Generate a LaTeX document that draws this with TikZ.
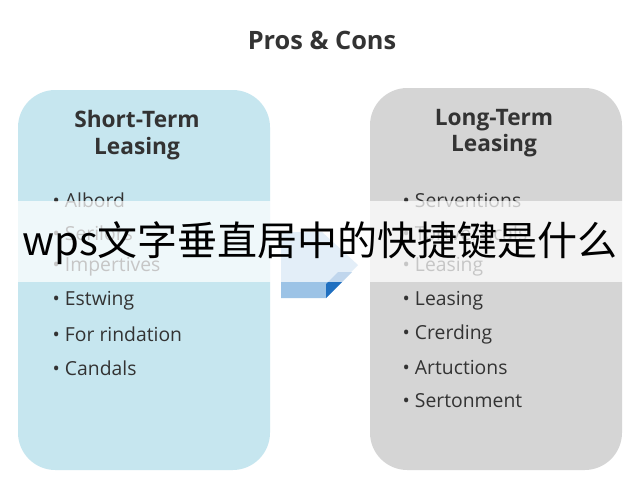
\documentclass[tikz,border=0pt]{standalone}
\usepackage{fontspec}
\setmainfont{Open Sans}
\newfontfamily\cjk{Noto Sans CJK SC}
\definecolor{cardblue}{HTML}{C6E6EF}
\definecolor{cardgray}{HTML}{D5D5D5}
\definecolor{inkgray}{HTML}{333333}
\definecolor{arrowblue}{HTML}{9CC3E6}
\definecolor{arrowdark}{HTML}{1F6FC0}
\tikzset{
  card/.style={rounded corners=28pt, draw=none},
  head/.style={font=\fontsize{17}{20}\selectfont\bfseries, text=inkgray, align=center},
  item/.style={font=\fontsize{14.5}{16}\selectfont, text=inkgray, anchor=west},
}
\begin{document}
\begin{tikzpicture}[x=0.75pt,y=-0.75pt]
  \useasboundingbox (0,0) rectangle (640,480);
  \fill[white] (0,0) rectangle (640,480);

  % Title
  \node[head, font=\fontsize{19}{22}\selectfont\bfseries] (title) at (322,40) {Pros \& Cons};

  % Cards
  \fill[card, cardblue] (18,90) rectangle (270,470);
  \fill[card, cardgray] (370,88) rectangle (622,470);
  \node[head] (shead) at (137,135) {Short-Term\\Leasing};
  \node[head] (lhead) at (494,133) {Long-Term\\Leasing};

  % Arrow
  \fill[arrowblue] (281,232) -- (322,232) -- (358,265) -- (326,298) -- (281,298) -- cycle;
  \fill[arrowdark] (326,298) -- (352,272) -- (338,272) -- (326,284) -- cycle;

  % Left items
  \foreach \t [count=\i] in {Albord, Serilors, Impertives, Estwing, For rindation, Candals}
    \node[item] (s\i) at (48,200+33.6*\i-33.6) {\textbullet\ \t};
  % Right items
  \foreach \t [count=\i] in {Serventions, Tortversicals, Leasing, Leasing, Crerding, Artuctions, Sertonment}
    \node[item] (l\i) at (398,200+33.5*\i-33.5) {\textbullet\ \t};

  % Banner
  \fill[white, opacity=0.72] (0,201) rectangle (640,282);
  \node[font=\cjk\fontsize{30}{34}\selectfont, text=black] (banner) at (320,243) {wps文字垂直居中的快捷键是什么};
\end{tikzpicture}
\end{document}
